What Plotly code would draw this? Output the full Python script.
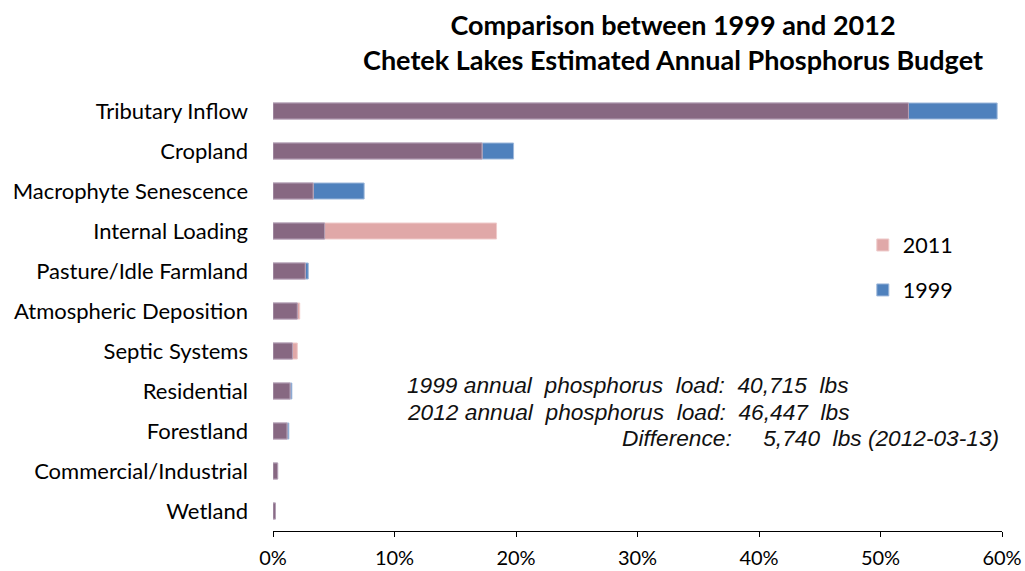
import plotly.graph_objects as go

# Phosphorus budget share by source (% of annual load)
sources = [
    "Tributary Inflow", "Cropland", "Macrophyte Senescence", "Internal Loading",
    "Pasture/Idle Farmland", "Atmospheric Deposition", "Septic Systems",
    "Residential", "Forestland", "Commercial/Industrial", "Wetland",
]
share_1999 = [59.6, 19.8, 7.5, 4.25, 2.9, 2.0, 1.6, 1.55, 1.3, 0.38, 0.2]
share_2011 = [52.3, 17.2, 3.3, 18.4, 2.65, 2.2, 2.0, 1.4, 1.15, 0.38, 0.2]

tick_vals = [0, 10, 20, 30, 40, 50, 60]
tick_text = ["0%", "10%", "20%", "30%", "40%", "50%", "60%"]

note_lines = [
    "1999 annual\u00a0 phosphorus\u00a0 load:\u00a0 40,715\u00a0 lbs",
    "2012 annual\u00a0 phosphorus\u00a0 load:\u00a0 46,447\u00a0 lbs",
    "Difference:\u00a0\u00a0\u00a0\u00a0 5,740\u00a0 lbs (2012-03-13)",
]

BLUE = "#4F81BD"
PINK = "#E0A8A8"
PURPLE = "#876882"
LABEL_FONT = "Lato, 'Open Sans', sans-serif"
NOTE_FONT = dict(family="'Liberation Sans', Arial, sans-serif", size=22.7,
                 color="#111111", style="italic")

# shared portion of both years is drawn in the blended colour
shared = [min(a, b) for a, b in zip(share_1999, share_2011)]

fig = go.Figure()
fig.add_trace(go.Bar(
    y=sources, x=share_1999, orientation="h", name="1999",
    marker=dict(color=BLUE, line=dict(color="#9DB7DA", width=1)),
    width=0.4, legendgroup="b", legendrank=2,
))
fig.add_trace(go.Bar(
    y=sources, x=share_2011, orientation="h", name="2011",
    marker=dict(color=PINK, line=dict(color="#EFCBCB", width=1)),
    width=0.4, legendgroup="a", legendrank=1,
))
fig.add_trace(go.Bar(
    y=sources, x=shared, orientation="h", name="overlap",
    marker=dict(color=PURPLE, line=dict(color="#B3A0B6", width=1)),
    width=0.4, showlegend=False, hoverinfo="skip",
))

W, H = 1025, 571
L, R, T, B = 272.7, 22.7, 91, 40
pw, ph = W - L - R, H - T - B


def px_x(x):
    return (x - L) / pw


def px_y(y):
    return 1 - (y - T) / ph


for i, line in enumerate(note_lines[:2]):
    fig.add_annotation(
        x=px_x(405), y=px_y(385 + 26.5 * i), xref="paper", yref="paper",
        text=line, showarrow=False, xanchor="left", yanchor="middle",
        font=NOTE_FONT,
    )
fig.add_annotation(
    x=px_x(1001), y=px_y(438), xref="paper", yref="paper", text=note_lines[2],
    showarrow=False, xanchor="right", yanchor="middle", font=NOTE_FONT,
)

fig.update_layout(
    width=W, height=H,
    margin=dict(l=L, r=R, t=T, b=B, pad=0, autoexpand=False),
    barmode="overlay",
    paper_bgcolor="white", plot_bgcolor="white",
    title=dict(
        text="<b>Comparison between 1999 and 2012<br>Chetek Lakes Estimated Annual Phosphorus Budget</b>",
        x=673 / W, xanchor="center", y=1 - 35 / H, yanchor="middle",
        font=dict(family=LABEL_FONT, size=27, color="#000000"),
    ),
    legend=dict(
        x=px_x(863), y=px_y(224.5), xanchor="left", yanchor="top",
        font=dict(family=LABEL_FONT, size=21.5, color="#000000"),
        bgcolor="rgba(0,0,0,0)", tracegroupgap=14, itemwidth=30,
        traceorder="grouped",
    ),
    xaxis=dict(
        range=[0, 60], tickvals=tick_vals, ticktext=tick_text,
        showgrid=False, zeroline=False, showline=True, linecolor="#000000",
        linewidth=1, ticks="outside", ticklen=5, tickcolor="#000000",
        ticklabelstandoff=4, automargin=False,
        tickfont=dict(family=LABEL_FONT, size=20, color="#000000"),
    ),
    yaxis=dict(
        autorange="reversed", showgrid=False, zeroline=False, showline=False,
        ticks="", ticklabelstandoff=24, automargin=False,
        tickfont=dict(family=LABEL_FONT, size=22, color="#000000"),
    ),
)

fig.write_html("out.html")
